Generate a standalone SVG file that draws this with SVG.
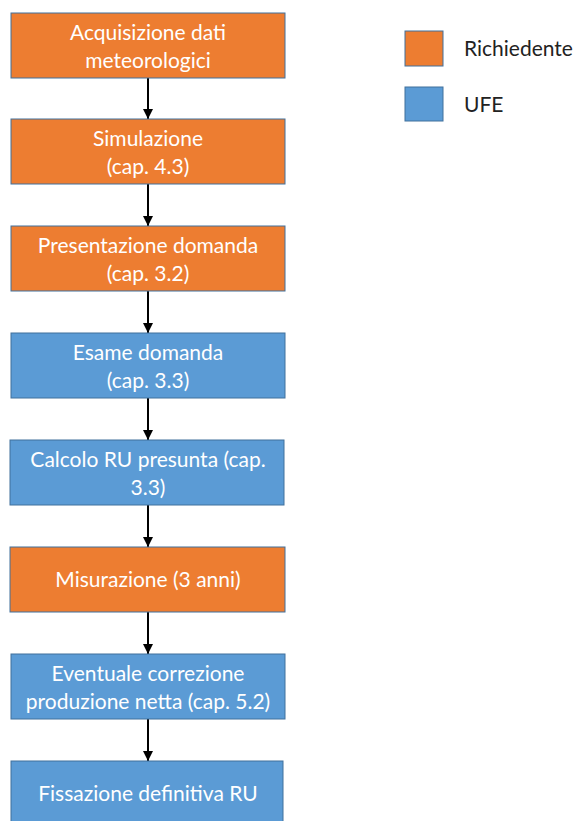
<svg xmlns="http://www.w3.org/2000/svg" width="579" height="821" viewBox="0 0 579 821">
<style>
.o{fill:#ED7D31;stroke:#41719C;stroke-width:1}
.b{fill:#5B9BD5;stroke:#41719C;stroke-width:1}
.t{font-family:Lato,"Open Sans","Liberation Sans",sans-serif;font-size:21px;fill:#fff;text-anchor:middle}
.l{font-family:Lato,"Open Sans","Liberation Sans",sans-serif;font-size:21px;fill:#222}
.c{stroke:#000;stroke-width:2;fill:none;marker-end:url(#ah)}
</style>
<defs>
<marker id="ah" viewBox="0 0 10 10" refX="10" refY="5" markerWidth="5" markerHeight="5" orient="auto" markerUnits="strokeWidth">
<path d="M0,0 L10,5 L0,10 z" fill="#000"/>
</marker>
</defs>
<rect width="579" height="821" fill="#fff"/>
<g id="connectors">
<line class="c" x1="148" y1="78" x2="148" y2="119"/>
<line class="c" x1="148" y1="184" x2="148" y2="226"/>
<line class="c" x1="148" y1="291" x2="148" y2="333"/>
<line class="c" x1="148" y1="398" x2="148" y2="440"/>
<line class="c" x1="148" y1="505" x2="148" y2="547"/>
<line class="c" x1="148" y1="612" x2="148" y2="654"/>
<line class="c" x1="148" y1="719" x2="148" y2="761"/>
</g>
<g id="n1"><rect class="o" x="11" y="13" width="274" height="65"/><text class="t" x="148" y="40">Acquisizione dati</text><text class="t" x="148" y="68">meteorologici</text></g>
<g id="n2"><rect class="o" x="11" y="119" width="274" height="65"/><text class="t" x="148" y="146">Simulazione</text><text class="t" x="148" y="174">(cap. 4.3)</text></g>
<g id="n3"><rect class="o" x="11" y="226" width="274" height="65"/><text class="t" x="148" y="253">Presentazione domanda</text><text class="t" x="148" y="281">(cap. 3.2)</text></g>
<g id="n4"><rect class="b" x="11" y="333" width="274" height="65"/><text class="t" x="148" y="360">Esame domanda</text><text class="t" x="148" y="388">(cap. 3.3)</text></g>
<g id="n5"><rect class="b" x="10" y="440" width="274" height="65"/><text class="t" x="148" y="467">Calcolo RU presunta (cap.</text><text class="t" x="148" y="495">3.3)</text></g>
<g id="n6"><rect class="o" x="10" y="547" width="275" height="65"/><text class="t" x="148" y="587">Misurazione (3 anni)</text></g>
<g id="n7"><rect class="b" x="11" y="654" width="274" height="65"/><text class="t" x="148" y="681">Eventuale correzione</text><text class="t" x="148" y="709">produzione netta (cap. 5.2)</text></g>
<g id="n8"><rect class="b" x="11" y="761" width="272" height="65"/><text class="t" x="148" y="801">Fissazione definitiva RU</text></g>
<g id="legend">
<rect class="o" x="405" y="31" width="38" height="35"/>
<text class="l" x="464" y="56">Richiedente</text>
<rect class="b" x="405" y="87" width="38" height="34"/>
<text class="l" x="464" y="112">UFE</text>
</g>
</svg>
